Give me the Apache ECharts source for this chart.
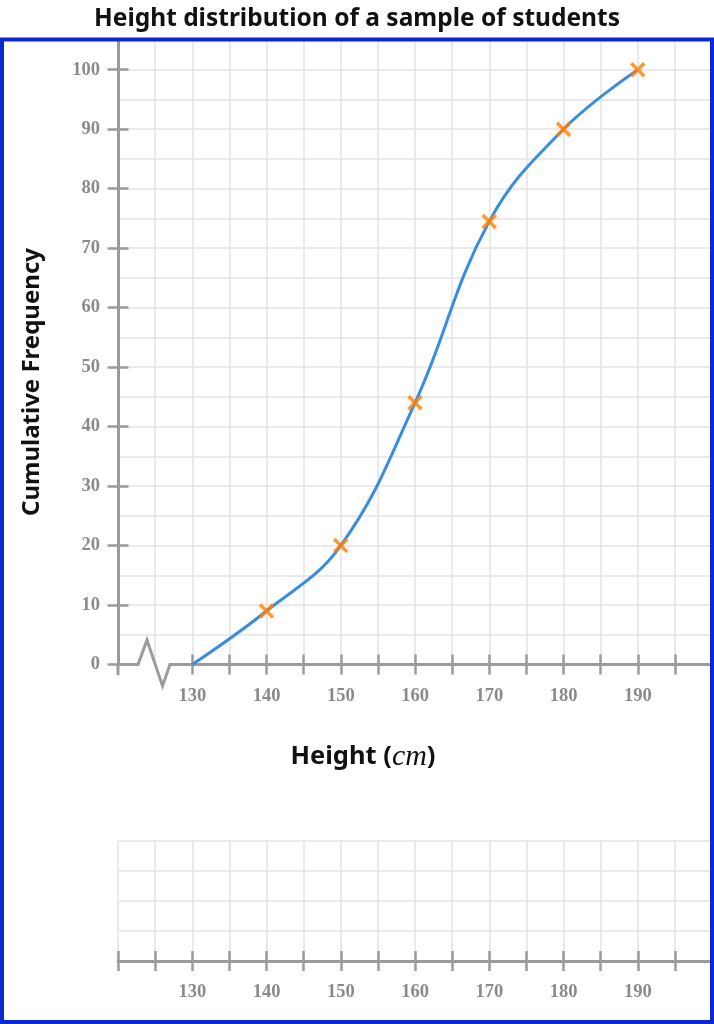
<!DOCTYPE html>
<html><head><meta charset="utf-8">
<script src="https://cdn.jsdelivr.net/npm/echarts@6/dist/echarts.min.js"></script>
<style>html,body{margin:0;padding:0;background:#fff}#c{width:714px;height:1024px}</style>
</head><body><div id="c"></div>
<script>
// ---- data ----
const heights = [130, 140, 150, 160, 170, 180, 190];
const cumulativeFrequency = [0, 9, 20, 44, 74.5, 90, 100];
const xTickValues = [130, 135, 140, 145, 150, 155, 160, 165, 170, 175, 180, 185, 190, 195];
const xLabelValues = [130, 140, 150, 160, 170, 180, 190];
const yLabelValues = [0, 10, 20, 30, 40, 50, 60, 70, 80, 90, 100];
const lowerTickValues = [120, 125, 130, 135, 140, 145, 150, 155, 160, 165, 170, 175, 180, 185, 190, 195];
// axis-break zigzag (decoration, in axis units)
const axisBreakPath = [[120, 0], [122.7, 0], [123.9, 4.1], [126.0, -3.6], [127.0, 0], [200, 0]];
const yAxisStub = [[120, 0], [120, -1.8]];

// ---- styles ----
const AXIS = '#9b9b9b';
const GRIDC = '#e3e3e3';
const labelFont = { fontFamily: '"Liberation Serif", serif', fontWeight: 'bold', fontSize: 18.5, color: '#8a8a8a' };
const tickStyle = { color: AXIS, width: 2.5 };

function xAxisBase(grid) {
  return { type: 'value', gridIndex: grid, min: 120, max: 200, position: 'bottom',
    axisLine: { show: false, onZero: false }, axisTick: { show: false }, axisLabel: { show: false }, splitLine: { show: false } };
}
function yAxisBase(grid, max) {
  return { type: 'value', gridIndex: grid, min: 0, max: max, position: 'left',
    axisLine: { show: false, onZero: false }, axisTick: { show: false }, axisLabel: { show: false }, splitLine: { show: false } };
}

const xAxes = [
  Object.assign(xAxisBase(0), { interval: 5, splitLine: { show: true, lineStyle: { color: GRIDC, width: 1.5 } } }),
  Object.assign(xAxisBase(0), {
    axisTick: { show: true, customValues: xTickValues, length: 10, lineStyle: tickStyle },
    axisLabel: Object.assign({ show: true, customValues: xLabelValues, margin: 22 }, labelFont)
  }),
  Object.assign(xAxisBase(0), { axisTick: { show: true, inside: true, customValues: xTickValues, length: 10, lineStyle: tickStyle } }),
  Object.assign(xAxisBase(1), { interval: 5, splitLine: { show: true, lineStyle: { color: GRIDC, width: 1.5 } } }),
  Object.assign(xAxisBase(1), {
    axisLine: { show: true, onZero: false, lineStyle: { color: AXIS, width: 3 } },
    axisTick: { show: true, customValues: lowerTickValues, length: 10, lineStyle: tickStyle },
    axisLabel: Object.assign({ show: true, customValues: xLabelValues, margin: 22 }, labelFont)
  }),
  Object.assign(xAxisBase(1), { axisTick: { show: true, inside: true, customValues: lowerTickValues, length: 10, lineStyle: tickStyle } })
];

const yAxes = [
  Object.assign(yAxisBase(0, 105), { interval: 5, splitLine: { show: true, showMinLine: false, lineStyle: { color: GRIDC, width: 1.5 } } }),
  Object.assign(yAxisBase(0, 105), {
    axisLine: { show: true, onZero: false, lineStyle: { color: AXIS, width: 3 } },
    axisTick: { show: true, customValues: yLabelValues, length: 10.5, lineStyle: tickStyle },
    axisLabel: Object.assign({ show: true, customValues: yLabelValues, margin: 18 }, labelFont)
  }),
  Object.assign(yAxisBase(0, 105), { axisTick: { show: true, inside: true, customValues: yLabelValues, length: 10.5, lineStyle: tickStyle } }),
  Object.assign(yAxisBase(1, 20), { interval: 5, splitLine: { show: true, lineStyle: { color: GRIDC, width: 1.5 } } })
];

const chart = echarts.init(document.getElementById('c'), null, { renderer: 'canvas' });
chart.setOption({
  animation: false,
  backgroundColor: '#fff',
  title: {
    text: 'Height distribution of a sample of students',
    left: 'center', top: 2,
    textStyle: { fontFamily: '"Noto Sans", sans-serif', fontWeight: 'bold', fontSize: 24.5, color: '#111' }
  },
  grid: [
    { left: 118, right: 2, top: 40, bottom: 359.5 },
    { left: 118, right: 2, top: 841, bottom: 63 }
  ],
  xAxis: xAxes,
  yAxis: yAxes,
  series: [
    {
      name: 'axisBreak', type: 'line', xAxisIndex: 0, yAxisIndex: 0, data: axisBreakPath,
      symbol: 'none', clip: false, silent: true, z: 2,
      lineStyle: { color: AXIS, width: 3, join: 'miter' }
    },
    {
      name: 'yStub', type: 'line', xAxisIndex: 0, yAxisIndex: 0, data: yAxisStub,
      symbol: 'none', clip: false, silent: true, z: 2,
      lineStyle: { color: AXIS, width: 3 }
    },
    {
      name: 'Cumulative frequency', type: 'line', xAxisIndex: 0, yAxisIndex: 0,
      data: heights.map((h, i) => [h, cumulativeFrequency[i]]),
      smooth: 0.4, showSymbol: false, z: 3,
      lineStyle: { color: '#3a8ddc', width: 3 }
    },
    {
      name: 'points', type: 'scatter', xAxisIndex: 0, yAxisIndex: 0,
      data: heights.map((h, i) => [h, cumulativeFrequency[i]]).slice(1),
      symbol: 'path://M0,0L10,10M10,0L0,10', symbolSize: 13, z: 4,
      itemStyle: { color: 'rgba(0,0,0,0)', borderColor: '#ff8000', borderWidth: 3.5 }
    }
  ],
  graphic: [
    {
      type: 'text', x: 363, y: 757, z: 10,
      style: {
        text: '{a|Height (}{b|cm}{a|)}',
        align: 'center', verticalAlign: 'middle', textAlign: 'center', textVerticalAlign: 'middle',
        rich: {
          a: { fontSize: 25.5, fontWeight: 'bold', fontFamily: '"Noto Sans", sans-serif', fill: '#111', color: '#111' },
          b: { fontSize: 30, fontStyle: 'italic', fontFamily: '"Liberation Serif", serif', fill: '#111', color: '#111' }
        }
      }
    },
    {
      type: 'text', x: 32, y: 382, rotation: Math.PI / 2, z: 10,
      style: {
        text: 'Cumulative Frequency', font: 'bold 24px "Noto Sans", sans-serif', fill: '#111',
        align: 'center', verticalAlign: 'middle', textAlign: 'center', textVerticalAlign: 'middle'
      }
    },
    {
      type: 'rect', z: 20, silent: true,
      shape: { x: 2, y: 39.5, width: 710, height: 982.5 },
      style: { fill: 'none', stroke: '#0a28d4', lineWidth: 4 }
    }
  ]
});
</script>
</body></html>
